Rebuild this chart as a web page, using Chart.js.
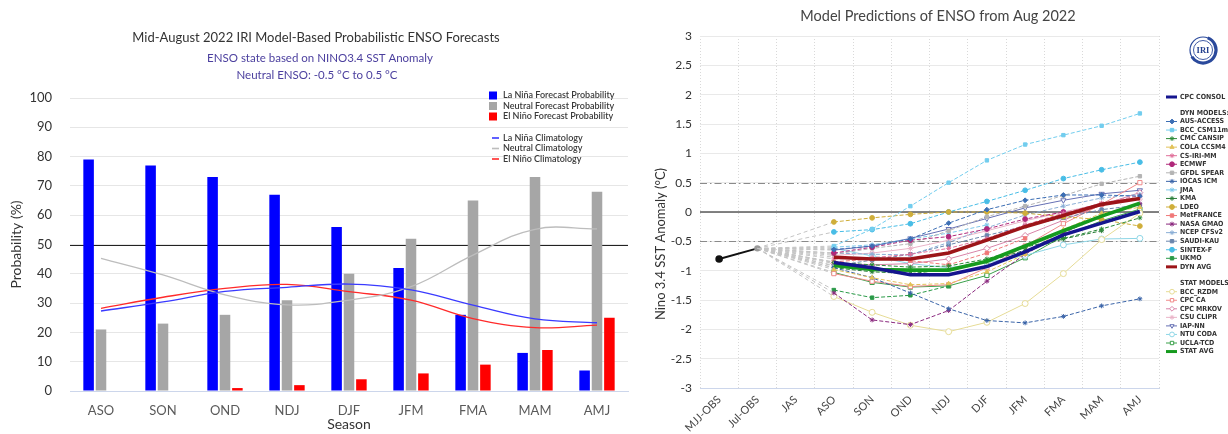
<!DOCTYPE html>
<html>
<head>
<meta charset="utf-8">
<script src="https://cdn.jsdelivr.net/npm/chart.js@4.4.0/dist/chart.umd.min.js"></script>
<style>
  html, body { margin: 0; padding: 0; background: #fff; width: 1228px; height: 434px; overflow: hidden; }
  #probWrap  { position: absolute; left: 0;     top: 0; width: 630px; height: 434px; }
  #plumeWrap { position: absolute; left: 630px; top: 0; width: 598px; height: 434px; }
  canvas { display: block; }
</style>
</head>
<body>
<div id="probWrap"><canvas id="probChart" width="630" height="434"></canvas></div>
<div id="plumeWrap"><canvas id="plumeChart" width="598" height="434"></canvas></div>

<script>
// ---------- Probabilistic ENSO forecast (percent) ----------
const seasons      = ['ASO', 'SON', 'OND', 'NDJ', 'DJF', 'JFM', 'FMA', 'MAM', 'AMJ'];
const laNinaProb   = [79, 77, 73, 67, 56, 42, 26, 13, 7];
const neutralProb  = [21, 23, 26, 31, 40, 52, 65, 73, 68];
const elNinoProb   = [0, 0, 1, 2, 4, 6, 9, 14, 25];
const laNinaClim   = [27.3, 30.4, 34.0, 35.4, 36.5, 34.5, 29.3, 24.6, 23.3];
const neutralClim  = [45.3, 39.6, 32.8, 29.4, 31.0, 35.6, 46.4, 55.2, 55.3];
const elNinoClim   = [28.2, 32.0, 35.0, 36.4, 33.9, 31.0, 24.7, 21.6, 22.5];
const probTicks    = [0, 10, 20, 30, 40, 50, 60, 70, 80, 90, 100];
const probReference = 50;

// ---------- Model plume (Nino 3.4 SST anomaly, deg C) ----------
const plumeSeasons = ['MJJ-OBS', 'Jul-OBS', 'JAS', 'ASO', 'SON', 'OND', 'NDJ', 'DJF', 'JFM', 'FMA', 'MAM', 'AMJ'];
const observed     = [-0.80, -0.62];
// forecasts below run ASO .. AMJ
const cpcConsol  = [-0.86, -0.95, -1.07, -1.07, -0.93, -0.68, -0.39, -0.19, 0.01];
const ausAccess  = [-0.64, -0.58, -0.46, -0.19, 0.04, 0.20, 0.29, 0.29, 0.27];
const bccCsm11m  = [-0.58, -0.29, 0.10, 0.50, 0.88, 1.15, 1.31, 1.47, 1.68];
const cmcCansip  = [-0.86, -0.90, -0.94, -0.92, -0.80, -0.60, -0.45, -0.29, -0.10];
const colaCcsm4  = [-0.98, -1.12, -1.24, -1.22, -1.02, -0.72, -0.30, -0.02, 0.08];
const csIriMm    = [-0.80, -0.78, -0.72, -0.62, -0.45, -0.22, -0.02, 0.15, 0.28];
const ecmwf      = [-0.70, -0.60, -0.48, -0.42, -0.29, -0.12, 0.00, null, null];
const gfdlSpear  = [-0.72, -0.62, -0.54, -0.32, -0.08, 0.10, 0.28, 0.48, 0.61];
const iocasIcm   = [-0.95, -1.12, -1.38, -1.65, -1.85, -1.89, -1.78, -1.60, -1.48];
const jma        = [-0.60, -0.56, -0.46, -0.36, -0.22, null, null, null, null];
const kma        = [-0.95, -1.02, -1.05, -0.98, -0.85, -0.65, -0.46, -0.32, null];
const ldeo       = [-0.17, -0.10, -0.04, 0.00, 0.00, -0.02, -0.08, -0.13, -0.24];
const metFrance  = [-0.85, -0.80, -0.83, -0.90, -0.70, -0.45, null, null, null];
const nasaGmao   = [-1.38, -1.84, -1.92, -1.68, -1.18, -0.72, -0.36, -0.06, 0.14];
const ncepCfsv2  = [-0.70, -0.72, -0.73, -0.52, -0.27, -0.05, 0.10, 0.24, 0.30];
const saudiKau   = [-0.92, -0.82, -0.72, -0.56, -0.40, -0.24, -0.10, 0.04, 0.12];
const sintexF    = [-0.34, -0.30, -0.20, 0.00, 0.18, 0.37, 0.57, 0.72, 0.85];
const ukmo       = [-1.33, -1.46, -1.42, -1.26, null, null, null, null, null];
const dynAvg     = [-0.77, -0.80, -0.80, -0.70, -0.48, -0.25, -0.06, 0.13, 0.23];
const bccRzdm    = [-1.44, -1.71, -1.93, -2.04, -1.88, -1.56, -1.05, -0.47, -0.02];
const cpcCa      = [-1.05, -1.18, -1.27, -1.24, -0.95, -0.58, -0.20, 0.13, 0.50];
const cpcMrkov   = [-0.88, -0.90, -0.88, -0.80, -0.62, -0.40, -0.14, 0.12, 0.33];
const csuClipr   = [-0.74, -0.70, -0.62, -0.48, -0.32, -0.15, 0.00, 0.14, 0.22];
const iapNn      = [-0.65, -0.58, -0.45, -0.29, -0.11, 0.07, 0.20, 0.31, 0.37];
const ntuCoda    = [-0.62, -0.75, -0.88, -0.95, -0.86, -0.74, -0.56, -0.46, -0.45];
const uclaTcd    = [-1.03, -1.20, -1.28, -1.26, -1.08, -0.78, -0.41, -0.15, 0.05];
const statAvg    = [-0.91, -0.98, -0.99, -0.99, -0.84, -0.58, -0.32, -0.07, 0.15];
const anomalyTicks = [-3, -2.5, -2, -1.5, -1, -0.5, 0, 0.5, 1, 1.5, 2, 2.5, 3];
const neutralBand  = [-0.5, 0.5];

const FONT = 'Lato, "Open Sans", "Liberation Sans", sans-serif';
Chart.defaults.font.family = FONT;

// ===================== left chart =====================
const probLegend = {
  id: 'probLegend',
  afterDraw(chart) {
    const ctx = chart.ctx;
    const rows = [95.5, 106, 116.5, 138, 148.5, 159];
    ctx.save();
    ctx.font = '600 9px ' + FONT;
    ctx.textBaseline = 'middle';
    chart.data.datasets.forEach((d, i) => {
      const y = rows[i];
      if (d.type === 'line') {
        ctx.strokeStyle = d.borderColor; ctx.lineWidth = 1.6;
        ctx.beginPath(); ctx.moveTo(492, y); ctx.lineTo(499, y); ctx.stroke();
      } else {
        ctx.fillStyle = d.backgroundColor;
        ctx.fillRect(489, y - 4, 8, 8);
      }
      ctx.fillStyle = '#3a3a3a';
      ctx.fillText(d.label, 503, y);
    });
    ctx.restore();
  }
};

const probCaptions = {
  id: 'probCaptions',
  afterDraw(chart) {
    const ctx = chart.ctx;
    ctx.save();
    ctx.textAlign = 'center'; ctx.textBaseline = 'middle';
    ctx.fillStyle = '#333';
    ctx.font = '13px ' + FONT;
    ctx.fillText('Mid-August 2022 IRI Model-Based Probabilistic ENSO Forecasts', 316, 38);
    ctx.fillStyle = '#4b3f9e';
    ctx.font = '11.5px ' + FONT;
    ctx.fillText('ENSO state based on NINO3.4 SST Anomaly', 320, 58);
    ctx.fillText('Neutral ENSO: -0.5 \u00B0C to 0.5 \u00B0C', 317, 75);
    ctx.restore();
  }
};

const probReferenceLine = {
  id: 'probReferenceLine',
  beforeDatasetsDraw(chart) {
    const { ctx, chartArea, scales } = chart;
    const y = Math.round(scales.y.getPixelForValue(probReference)) + 0.5;
    ctx.save();
    ctx.strokeStyle = '#222'; ctx.lineWidth = 1.2;
    ctx.beginPath(); ctx.moveTo(chartArea.left, y); ctx.lineTo(chartArea.right, y); ctx.stroke();
    ctx.restore();
  }
};

const barOpts = { type: 'bar', borderWidth: 0, categoryPercentage: 0.6, barPercentage: 0.85, order: 1 };
const climOpts = { type: 'line', borderWidth: 1.3, pointRadius: 0, tension: 0.4, fill: false, order: 0 };

new Chart(document.getElementById('probChart'), {
  data: {
    labels: seasons,
    datasets: [
      { ...barOpts, label: 'La Ni\u00F1a Forecast Probability', data: laNinaProb, backgroundColor: '#0000ff' },
      { ...barOpts, label: 'Neutral Forecast Probability', data: neutralProb, backgroundColor: '#a6a6a6' },
      { ...barOpts, label: 'El Ni\u00F1o Forecast Probability', data: elNinoProb, backgroundColor: '#ff0000' },
      { ...climOpts, label: 'La Ni\u00F1a Climatology', data: laNinaClim, borderColor: '#3a3aff' },
      { ...climOpts, label: 'Neutral Climatology', data: neutralClim, borderColor: '#bdbdbd' },
      { ...climOpts, label: 'El Ni\u00F1o Climatology', data: elNinoClim, borderColor: '#ff2a2a' }
    ]
  },
  options: {
    responsive: false, animation: false, events: [],
    layout: { padding: { top: 98, right: 2, left: 0, bottom: 0 } },
    plugins: { legend: { display: false }, tooltip: { enabled: false } },
    scales: {
      x: {
        grid: { display: false },
        border: { color: '#ccd6eb', width: 1 },
        ticks: { color: '#5a5a5a', font: { size: 13 }, padding: 4 },
        title: { display: true, text: 'Season', color: '#333', font: { size: 14 }, padding: { top: 0, bottom: 1 } },
        afterFit(s) { s.height = 43; }
      },
      y: {
        min: 0, max: 100,
        afterBuildTicks(s) { s.ticks = probTicks.map(v => ({ value: v })); },
        grid: { color: '#e6e6e6', drawTicks: false },
        border: { display: false },
        ticks: { color: '#333', font: { size: 13 }, padding: 18 },
        title: { display: true, text: 'Probability (%)', color: '#333', font: { size: 14 }, padding: { top: 8, bottom: 0 } },
        afterFit(s) { s.width = 70; }
      }
    }
  },
  plugins: [probReferenceLine, probLegend, probCaptions]
});

// ===================== right chart =====================
const FIRST_FCST = 3; // index of ASO among plume seasons

const plumeModels = [
  { label: 'CPC CONSOL', values: cpcConsol, color: '#15158e', group: 'consol', thick: true },
  { label: 'AUS-ACCESS', values: ausAccess, color: '#3c6eb4', marker: 'rectRot', group: 'dyn' },
  { label: 'BCC_CSM11m', values: bccCsm11m, color: '#72cdee', marker: 'rect', group: 'dyn' },
  { label: 'CMC CANSIP', values: cmcCansip, color: '#2e8b3a', marker: 'star', group: 'dyn' },
  { label: 'COLA CCSM4', values: colaCcsm4, color: '#e2c25a', marker: 'triangle', group: 'dyn' },
  { label: 'CS-IRI-MM', values: csIriMm, color: '#e0709a', marker: 'star', group: 'dyn' },
  { label: 'ECMWF', values: ecmwf, color: '#b0287a', marker: 'circle', group: 'dyn' },
  { label: 'GFDL SPEAR', values: gfdlSpear, color: '#b4b4b4', marker: 'rect', group: 'dyn' },
  { label: 'IOCAS ICM', values: iocasIcm, color: '#3a64a8', marker: 'star', group: 'dyn' },
  { label: 'JMA', values: jma, color: '#7ec8ea', marker: 'star', group: 'dyn' },
  { label: 'KMA', values: kma, color: '#2a7f3a', marker: 'star', group: 'dyn' },
  { label: 'LDEO', values: ldeo, color: '#cfae3a', marker: 'circle', group: 'dyn' },
  { label: 'MetFRANCE', values: metFrance, color: '#f07878', marker: 'rect', group: 'dyn' },
  { label: 'NASA GMAO', values: nasaGmao, color: '#8b2a7f', marker: 'star', group: 'dyn' },
  { label: 'NCEP CFSv2', values: ncepCfsv2, color: '#8aaed6', marker: 'star', group: 'dyn' },
  { label: 'SAUDI-KAU', values: saudiKau, color: '#6a86ad', marker: 'rect', group: 'dyn' },
  { label: 'SINTEX-F', values: sintexF, color: '#48bde6', marker: 'circle', group: 'dyn' },
  { label: 'UKMO', values: ukmo, color: '#2a9a48', marker: 'rect', group: 'dyn' },
  { label: 'DYN AVG', values: dynAvg, color: '#9c1418', group: 'dyn', thick: true },
  { label: 'BCC_RZDM', values: bccRzdm, color: '#e6dc96', marker: 'circle', group: 'stat' },
  { label: 'CPC CA', values: cpcCa, color: '#f08a8a', marker: 'rect', group: 'stat' },
  { label: 'CPC MRKOV', values: cpcMrkov, color: '#d884a8', marker: 'rectRot', group: 'stat' },
  { label: 'CSU CLIPR', values: csuClipr, color: '#eab4c8', marker: 'star', group: 'stat' },
  { label: 'IAP-NN', values: iapNn, color: '#6670b4', marker: 'triangle', rotation: 180, group: 'stat' },
  { label: 'NTU CODA', values: ntuCoda, color: '#8ed6e6', marker: 'circle', group: 'stat' },
  { label: 'UCLA-TCD', values: uclaTcd, color: '#3aa04a', marker: 'rect', group: 'stat' },
  { label: 'STAT AVG', values: statAvg, color: '#169a1e', group: 'stat', thick: true }
];

// first leg of each forecast hangs off the last observation as a grey dashed link
const linkSegment = {
  borderColor: c => c.p0DataIndex < FIRST_FCST ? '#c4c4c4' : undefined,
  borderDash:  c => c.p0DataIndex < FIRST_FCST ? [4, 3] : undefined,
  borderWidth: c => c.p0DataIndex < FIRST_FCST ? 1 : undefined
};

const plumeDatasets = plumeModels.map(m => {
  const filled = m.group !== 'stat';
  return {
    label: m.label,
    group: m.group,
    thick: !!m.thick,
    data: [null, observed[1], null, ...m.values],
    borderColor: m.color,
    backgroundColor: filled ? m.color : '#ffffff',
    pointBorderColor: m.color,
    pointBackgroundColor: filled ? m.color : '#ffffff',
    borderWidth: m.thick ? 3.6 : 1,
    borderDash: (m.group === 'dyn' && !m.thick) ? [4, 2] : [],
    pointStyle: m.marker || false,
    pointRotation: m.rotation || 0,
    pointRadius: c => (m.thick || c.dataIndex < FIRST_FCST) ? 0 : (filled ? 2.4 : 3),
    pointBorderWidth: 1,
    spanGaps: true,
    tension: 0,
    segment: linkSegment,
    order: m.thick ? 0 : 2
  };
});

plumeDatasets.push({
  label: 'Observed',
  group: 'obs',
  data: [...observed, ...Array(plumeSeasons.length - observed.length).fill(null)],
  borderColor: '#111', backgroundColor: '#111',
  pointBackgroundColor: ['#111', '#999'], pointBorderColor: ['#111', '#999'],
  borderWidth: 2, pointRadius: [2.8, 2.2], order: 1
});

const plumeRefLines = {
  id: 'plumeRefLines',
  beforeDatasetsDraw(chart) {
    const { ctx, chartArea, scales } = chart;
    ctx.save();
    const y0 = scales.y.getPixelForValue(0);
    ctx.strokeStyle = '#5a5a5a'; ctx.lineWidth = 1.6;
    ctx.beginPath(); ctx.moveTo(chartArea.left, y0); ctx.lineTo(chartArea.right, y0); ctx.stroke();
    ctx.strokeStyle = '#8a8a8a'; ctx.lineWidth = 1.1; ctx.setLineDash([7, 3, 1.5, 3]);
    neutralBand.forEach(v => {
      const y = Math.round(scales.y.getPixelForValue(v)) + 0.5;
      ctx.beginPath(); ctx.moveTo(chartArea.left, y); ctx.lineTo(chartArea.right, y); ctx.stroke();
    });
    ctx.restore();
  }
};

function drawMarker(ctx, style, x, y, r, rot) {
  if (Chart.helpers && Chart.helpers.drawPoint) {
    Chart.helpers.drawPoint(ctx, { pointStyle: style, radius: r, rotation: rot || 0, borderWidth: 1 }, x, y);
  } else {
    ctx.beginPath(); ctx.arc(x, y, r, 0, Math.PI * 2); ctx.fill(); ctx.stroke();
  }
}

const plumeLegend = {
  id: 'plumeLegend',
  afterDraw(chart) {
    const ctx = chart.ctx;
    const ds = chart.data.datasets;
    const xm = 542, xt = 550, step = 8.55;
    const rows = [];
    ds.forEach(d => { if (d.group === 'consol') rows.push({ d, y: 97 }); });
    rows.push({ header: 'DYN MODELS:', y: 113 });
    ds.filter(d => d.group === 'dyn').forEach((d, k) => rows.push({ d, y: 121.5 + k * step }));
    rows.push({ header: 'STAT MODELS:', y: 283 });
    ds.filter(d => d.group === 'stat').forEach((d, k) => rows.push({ d, y: 291.7 + k * step }));
    ctx.save();
    ctx.font = 'bold 7px "Liberation Sans Narrow", "DejaVu Sans Condensed", sans-serif';
    ctx.textBaseline = 'middle';
    rows.forEach(r => {
      if (r.header) {
        ctx.fillStyle = '#333';
        ctx.fillText(r.header, xt, r.y);
        return;
      }
      const d = r.d;
      ctx.strokeStyle = d.borderColor;
      ctx.lineWidth = d.thick ? 3 : 1;
      ctx.setLineDash([]);
      ctx.beginPath(); ctx.moveTo(xm - 6, r.y); ctx.lineTo(xm + 5, r.y); ctx.stroke();
      if (d.pointStyle) {
        ctx.fillStyle = d.pointBackgroundColor; ctx.strokeStyle = d.pointBorderColor; ctx.lineWidth = 1;
        drawMarker(ctx, d.pointStyle, xm, r.y, 2.4, d.pointRotation);
      }
      ctx.fillStyle = '#333';
      ctx.fillText(d.label, xt, r.y);
    });
    ctx.restore();
  }
};

const plumeCaptions = {
  id: 'plumeCaptions',
  afterDraw(chart) {
    const ctx = chart.ctx;
    ctx.save();
    ctx.fillStyle = '#444';
    ctx.textAlign = 'center'; ctx.textBaseline = 'middle';
    ctx.font = '14.5px ' + FONT;
    ctx.fillText('Model Predictions of ENSO from Aug 2022', 308, 16);
    ctx.translate(31, 244);
    ctx.rotate(-Math.PI / 2);
    ctx.font = '13px ' + FONT;
    ctx.fillStyle = '#333';
    ctx.fillText('Nino 3.4 SST Anomaly (\u00B0C)', 0, 0);
    ctx.restore();
    // IRI emblem
    ctx.save();
    const cx = 573, cy = 50;
    ctx.strokeStyle = '#2b4a9c';
    ctx.lineWidth = 3.2;
    ctx.beginPath(); ctx.arc(cx, cy, 13, -1.2, 2.6); ctx.stroke();
    ctx.lineWidth = 1.2;
    ctx.beginPath(); ctx.arc(cx, cy, 13, 0, Math.PI * 2); ctx.stroke();
    ctx.lineWidth = 0.9;
    ctx.beginPath(); ctx.arc(cx, cy, 9.5, 0, Math.PI * 2); ctx.stroke();
    ctx.fillStyle = '#233f8e';
    ctx.font = 'bold 8.5px "Liberation Serif", serif';
    ctx.textAlign = 'center'; ctx.textBaseline = 'middle';
    ctx.fillText('IRI', cx, cy + 0.5);
    ctx.restore();
  }
};

new Chart(document.getElementById('plumeChart'), {
  type: 'line',
  data: { labels: plumeSeasons, datasets: plumeDatasets },
  options: {
    responsive: false, animation: false, events: [],
    layout: { padding: { top: 36, right: 69, left: 0, bottom: 0 } },
    plugins: { legend: { display: false }, tooltip: { enabled: false } },
    scales: {
      x: {
        offset: true,
        grid: { display: true, offset: true, color: '#d9d9d9', drawTicks: false },
        border: { display: true, color: '#ccd6eb', dash: [1, 2] },
        ticks: { color: '#444', font: { size: 11 }, minRotation: 45, maxRotation: 45, padding: 5, autoSkip: false },
        afterFit(s) { s.height = 46; }
      },
      y: {
        min: -3, max: 3,
        afterBuildTicks(s) { s.ticks = anomalyTicks.map(v => ({ value: v })); },
        grid: { color: '#e9e9e9', drawTicks: false },
        border: { display: false },
        ticks: { color: '#333', font: { size: 12 }, padding: 8, callback: v => String(v) },
        afterFit(s) { s.width = 70; }
      }
    }
  },
  plugins: [plumeRefLines, plumeLegend, plumeCaptions]
});
</script>
</body>
</html>
